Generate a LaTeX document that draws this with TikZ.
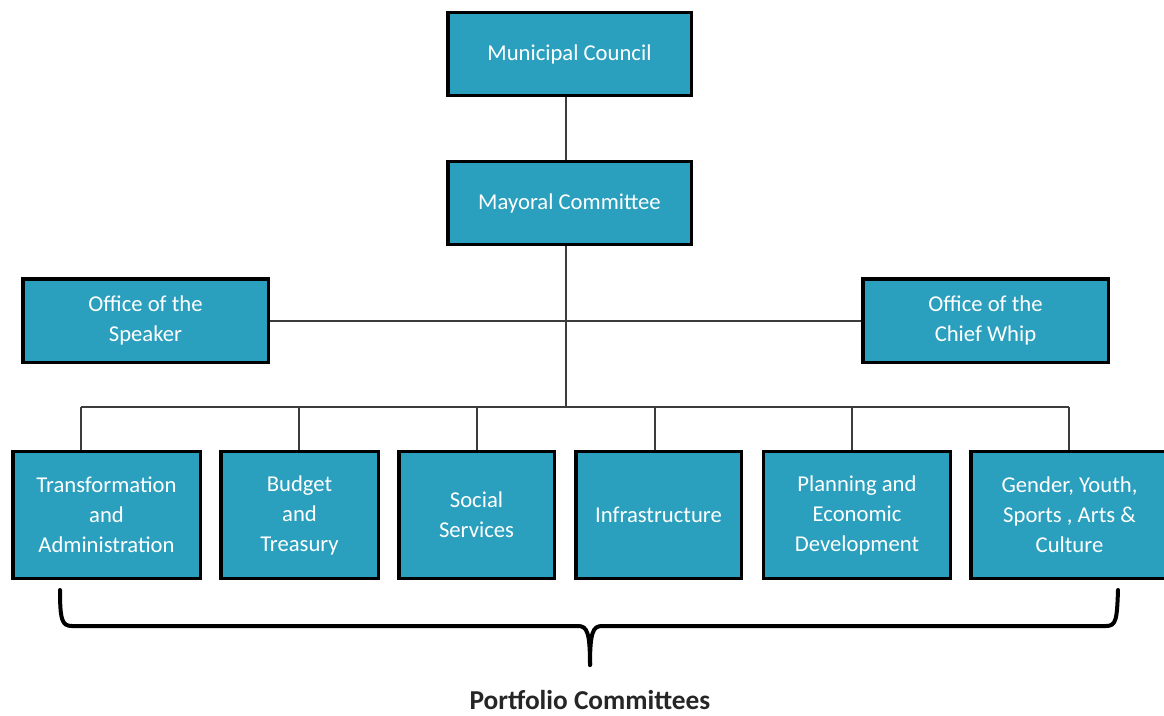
\documentclass[tikz,border=0pt]{standalone}
\usepackage{fontspec}
\setmainfont{Carlito}
\definecolor{boxfill}{RGB}{42,160,190}
\definecolor{linegray}{RGB}{60,60,60}
\tikzset{
  orgbox/.style={draw=black, line width=2.6pt, fill=boxfill, text=white,
    align=center, font=\fontsize{17}{22.5}\selectfont, inner sep=0pt},
  conn/.style={draw=linegray, line width=1.5pt},
  bracepath/.style={draw=black, line width=3pt, line cap=round, line join=round}
}
\begin{document}
\begin{tikzpicture}[x=0.75pt,y=-0.75pt]
\useasboundingbox (0,0) rectangle (1164,715);
% top boxes
\node[orgbox, minimum width=182.6pt, minimum height=61.9pt] (MC) at (569.5,54) {Municipal Council};
\node[orgbox, minimum width=182.6pt, minimum height=61.9pt] (MY) at (569.5,203) {Mayoral Committee};
\node[orgbox, minimum width=184.1pt, minimum height=62.6pt] (SP) at (145.5,320.5) {Office of the\\Speaker};
\node[orgbox, minimum width=184.1pt, minimum height=62.6pt] (CW) at (985.5,320.5) {Office of the\\Chief Whip};
% bottom boxes
\node[orgbox, minimum width=140.6pt, minimum height=94.9pt] (T) at (106.5,515) {Transformation\\and\\Administration};
\node[orgbox, minimum width=118.1pt, minimum height=94.9pt] (B) at (299.5,515) {Budget\\and\\Treasury};
\node[orgbox, minimum width=116.6pt, minimum height=94.9pt] (S) at (476.5,515) {Social\\Services};
\node[orgbox, minimum width=124.1pt, minimum height=94.9pt] (I) at (658.5,515) {Infrastructure};
\node[orgbox, minimum width=139.9pt, minimum height=94.9pt] (P) at (857,515) {Planning and\\Economic\\Development};
\node[orgbox, minimum width=148.1pt, minimum height=94.9pt] (G) at (1069.5,515) {Gender, Youth,\\Sports , Arts \&\\Culture};
% bus coordinates
\coordinate (busC) at (566,407);
\coordinate (dT) at (81,407);
\coordinate (dB) at (299,407);
\coordinate (dS) at (477,407);
\coordinate (dI) at (655,407);
\coordinate (dP) at (852,407);
\coordinate (dG) at (1069,407);
% connectors
\draw[conn] (MC.south -| busC) -- (MY.north -| busC);
\draw[conn] (SP.east) -- (CW.west);
\draw[conn] (MY.south -| busC) -- (busC);
\draw[conn] (dT) -- (dG);
\draw[conn] (dT) -- (dT |- T.north);
\draw[conn] (dB) -- (dB |- B.north);
\draw[conn] (dS) -- (dS |- S.north);
\draw[conn] (dI) -- (dI |- I.north);
\draw[conn] (dP) -- (dP |- P.north);
\draw[conn] (dG) -- (dG |- G.north);
% brace
\coordinate (brL) at (60,590);
\coordinate (brR) at (1118,590);
\coordinate (brTip) at (590,665);
\draw[bracepath] (brL) .. controls (60,620) and (62,626) .. (72,626) -- (578,626) .. controls (587,626) and (590,632) .. (brTip);
\draw[bracepath] (brR) .. controls (1117,620) and (1116,626) .. (1106,626) -- (602,626) .. controls (593,626) and (590,632) .. (brTip);
\node[font=\bfseries\fontsize{20.5}{22}\selectfont, text=black!85, inner sep=0pt] (PC) at (590,700) {Portfolio Committees};
\end{tikzpicture}
\end{document}
